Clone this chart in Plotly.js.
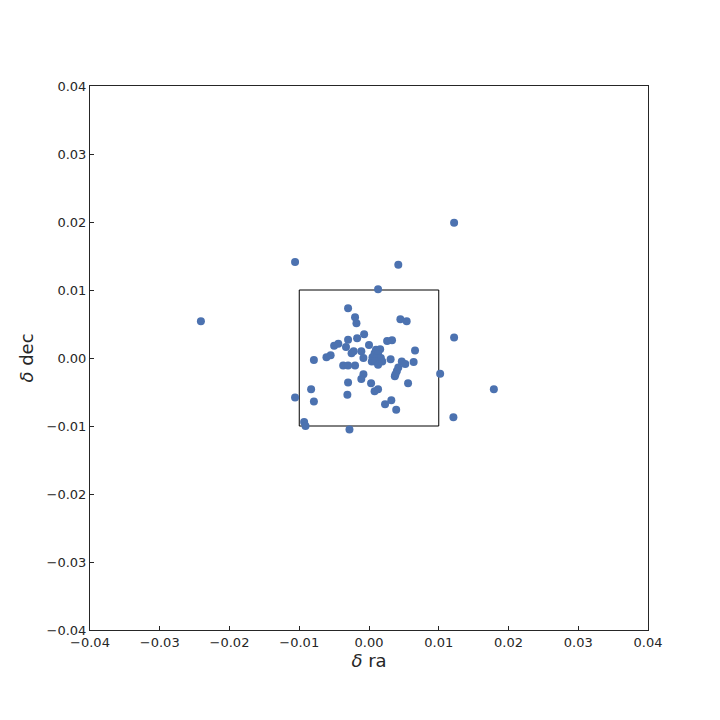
<!DOCTYPE html>
<html>
<head>
<meta charset="utf-8">
<script src="https://cdn.plot.ly/plotly-3.0.1.min.js"></script>
<style>html,body{margin:0;padding:0;background:#fff;}#chart{width:720px;height:720px;}</style>
</head>
<body>
<div id="chart"></div>
<script>
var dRa = [
  0.0013, -0.0030, -0.0020, -0.0018, 0.0045, 0.0054, 0.0122, -0.0007, -0.0030, -0.0017,
  -0.0044, -0.0050, -0.0033, 0.0000, 0.0026, 0.0033, 0.0066, -0.0011, -0.0025, -0.0022,
  -0.0079, -0.0055, -0.0061, -0.0008, 0.0010, 0.0016, 0.0008, 0.0013, 0.0005, 0.0011,
  0.0017, 0.0004, 0.0009, 0.0013, 0.0019, 0.0031, 0.0047, 0.0052, 0.0064, 0.0042,
  0.0040, 0.0037, 0.0038, 0.0102, -0.0037, -0.0030, -0.0020, -0.0008, -0.0011, -0.0030,
  0.0003, 0.0013, 0.0008, 0.0056, -0.0083, -0.0106, -0.0031, -0.0079, 0.0032, 0.0023,
  0.0039, 0.0121, -0.0093, -0.0091, -0.0028, 0.0122, -0.0106, 0.0042, -0.0241, 0.0179
];
var dDec = [
  0.0101, 0.0073, 0.0060, 0.0051, 0.0057, 0.0054, 0.0030, 0.0035, 0.0027, 0.0029,
  0.0021, 0.0018, 0.0016, 0.0019, 0.0025, 0.0026, 0.0011, 0.0010, 0.0007, 0.0010,
  -0.0003, 0.0004, 0.0001, 0.0000, 0.0012, 0.0013, 0.0007, 0.0006, 0.0001, 0.0000,
  0.0000, -0.0005, -0.0005, -0.0010, -0.0005, -0.0002, -0.0005, -0.0009, -0.0006, -0.0014,
  -0.0019, -0.0027, -0.0024, -0.0023, -0.0011, -0.0011, -0.0011, -0.0024, -0.0031, -0.0036,
  -0.0037, -0.0046, -0.0049, -0.0037, -0.0046, -0.0058, -0.0054, -0.0064, -0.0062, -0.0068,
  -0.0076, -0.0087, -0.0094, -0.0100, -0.0105, 0.0199, 0.0141, 0.0137, 0.0054, -0.0046
];
var tickVals = [-0.04, -0.03, -0.02, -0.01, 0.00, 0.01, 0.02, 0.03, 0.04];
var tickText = ['\u22120.04', '\u22120.03', '\u22120.02', '\u22120.01', '0.00', '0.01', '0.02', '0.03', '0.04'];
var boxLimits = [-0.01, 0.01];

var font = 'DejaVu Sans, sans-serif';
var axisCommon = {
  range: [-0.04, 0.04],
  tickmode: 'array',
  tickvals: tickVals,
  ticktext: tickText,
  ticks: 'inside',
  ticklen: 4,
  tickcolor: '#262626',
  tickfont: {family: font, size: 13, color: '#262626'},
  showgrid: false,
  zeroline: false,
  showline: true,
  linecolor: '#262626',
  linewidth: 1,
  mirror: true
};

var trace = {
  x: dRa, y: dDec, type: 'scatter', mode: 'markers',
  marker: {color: '#4C72B0', size: 8, line: {width: 0}},
  hoverinfo: 'none'
};

var layout = {
  width: 720, height: 720,
  margin: {l: 90, r: 72, t: 86, b: 90},
  paper_bgcolor: '#ffffff', plot_bgcolor: '#ffffff',
  showlegend: false,
  xaxis: Object.assign({}, axisCommon, {
    title: {text: '<i>\u03b4</i> ra', font: {family: font, size: 18, color: '#262626'}, standoff: 5}
  }),
  yaxis: Object.assign({}, axisCommon, {
    title: {text: '<i>\u03b4</i> dec', font: {family: font, size: 18, color: '#262626'}, standoff: 8}
  }),
  shapes: [{
    type: 'rect', xref: 'x', yref: 'y',
    x0: boxLimits[0], x1: boxLimits[1], y0: boxLimits[0], y1: boxLimits[1],
    line: {color: '#000000', width: 1}, fillcolor: 'rgba(0,0,0,0)', layer: 'below'
  }]
};

Plotly.newPlot('chart', [trace], layout, {staticPlot: true, displayModeBar: false});
</script>
</body>
</html>
